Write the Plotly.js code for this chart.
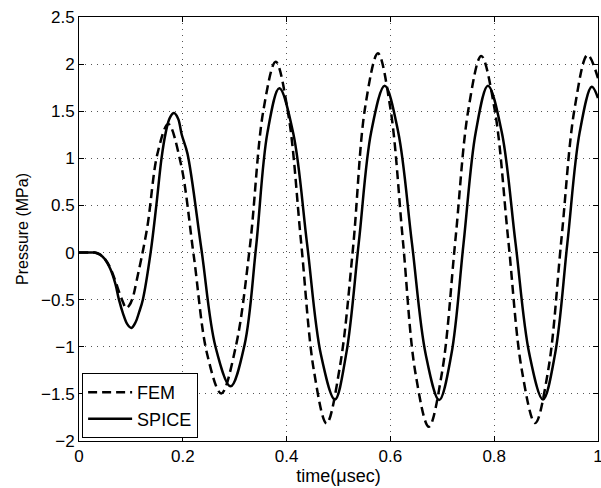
<!DOCTYPE html>
<html>
<head>
<meta charset="utf-8">
<script src="https://cdn.plot.ly/plotly-3.0.1.min.js"></script>
<style>html,body{margin:0;padding:0;background:#fff;}#chart{width:601px;height:488px;}</style>
</head>
<body>
<div id="chart"></div>
<script>
// FEM (dashed) series
const femT = [0, 0.02, 0.03, 0.04, 0.05, 0.06, 0.07, 0.078, 0.085, 0.0905, 0.097, 0.104, 0.111, 0.131, 0.1516, 0.172, 0.196, 0.221, 0.247, 0.274, 0.302, 0.329, 0.355, 0.379, 0.4035, 0.428, 0.4525, 0.477, 0.503, 0.528, 0.5513, 0.576, 0.600, 0.624, 0.648, 0.674, 0.6995, 0.725, 0.75, 0.775, 0.801, 0.827, 0.853, 0.879, 0.9043, 0.9295, 0.9548, 0.980, 1.0];
const femV = [0, 0, 0, -0.02, -0.07, -0.16, -0.30, -0.43, -0.53, -0.59, -0.56, -0.47, -0.3, 0.25, 1.06, 1.365, 0.95, -0.03, -1.08, -1.495, -1.0, 0.05, 1.5, 2.025, 1.46, 0.106, -1.25, -1.813, -1.2, 0.05, 1.54, 2.114, 1.53, 0.13, -1.27, -1.849, -1.27, 0.12, 1.51, 2.086, 1.515, 0.138, -1.24, -1.81, -1.24, 0.14, 1.525, 2.097, 1.85];

// SPICE (solid) series
const spiceT = [0, 0.02, 0.03, 0.04, 0.05, 0.06, 0.07, 0.077, 0.085, 0.093, 0.101, 0.109, 0.116, 0.123, 0.138, 0.149, 0.159, 0.167, 0.175, 0.183, 0.191, 0.198, 0.209, 0.236, 0.263, 0.292, 0.319, 0.341, 0.363, 0.386, 0.413, 0.4395, 0.466, 0.493, 0.515, 0.539, 0.563, 0.589, 0.615, 0.6415, 0.668, 0.694, 0.7175, 0.741, 0.7645, 0.788, 0.8145, 0.841, 0.8675, 0.894, 0.9175, 0.941, 0.9645, 0.988, 1.0];
const spiceV = [0, 0, 0, -0.02, -0.07, -0.17, -0.33, -0.5, -0.65, -0.76, -0.80, -0.74, -0.63, -0.5, 0, 0.5, 1.0, 1.27, 1.43, 1.48, 1.42, 1.25, 1.05, 0.03, -1.0, -1.42, -0.98, 0.05, 1.27, 1.745, 1.26, 0.09, -1.08, -1.56, -1.07, 0.1, 1.28, 1.77, 1.28, 0.10, -1.08, -1.565, -1.08, 0.10, 1.28, 1.77, 1.28, 0.105, -1.07, -1.56, -1.07, 0.10, 1.27, 1.76, 1.64];

const seriesNames = ["FEM", "SPICE"];
const xTickVals = [0, 0.2, 0.4, 0.6, 0.8, 1];
const xTickText = ["0", "0.2", "0.4", "0.6", "0.8", "1"];
const yTickVals = [-2, -1.5, -1, -0.5, 0, 0.5, 1, 1.5, 2, 2.5];
const yTickText = ["\u22122", "\u22121.5", "\u22121", "\u22120.5", "0", "0.5", "1", "1.5", "2", "2.5"];

const FONT = "Liberation Sans, Arial, Helvetica, sans-serif";

const traces = [
  {x: femT, y: femV, name: seriesNames[0], mode: "lines",
   line: {color: "#000", width: 2.5, dash: "9px,5px", shape: "spline", smoothing: 1}},
  {x: spiceT, y: spiceV, name: seriesNames[1], mode: "lines",
   line: {color: "#000", width: 2.5, shape: "spline", smoothing: 1}}
];

const axisCommon = {
  showline: true, linecolor: "#000", linewidth: 1, mirror: "ticks",
  ticks: "inside", ticklen: 5, tickcolor: "#000", tickwidth: 1,
  showgrid: true, gridcolor: "#555", gridwidth: 1, griddash: "1px,5px",
  zeroline: false, ticklabeloverflow: "allow",
  tickfont: {family: FONT, size: 17, color: "#000"}
};

const layout = {
  width: 601, height: 488,
  margin: {l: 79, r: 3, t: 17, b: 47},
  paper_bgcolor: "#fff", plot_bgcolor: "#fff",
  showlegend: true,
  legend: {x: 0.006, y: 0.007, xanchor: "left", yanchor: "bottom",
           bordercolor: "#000", borderwidth: 1, bgcolor: "#fff", itemwidth: 44,
           font: {family: FONT, size: 18, color: "#000"}, tracegroupgap: 0},
  xaxis: Object.assign({}, axisCommon, {
    range: [0, 1], tickvals: xTickVals, ticktext: xTickText,
    title: {text: "time(\u03bcsec)", font: {family: FONT, size: 18, color: "#000"}, standoff: 3}
  }),
  yaxis: Object.assign({}, axisCommon, {
    range: [-2, 2.5], tickvals: yTickVals, ticktext: yTickText,
    title: {text: "Pressure (MPa)", font: {family: FONT, size: 16, color: "#000"}, standoff: 8}
  })
};

Plotly.newPlot("chart", traces, layout, {displayModeBar: false, staticPlot: true});
</script>
</body>
</html>
